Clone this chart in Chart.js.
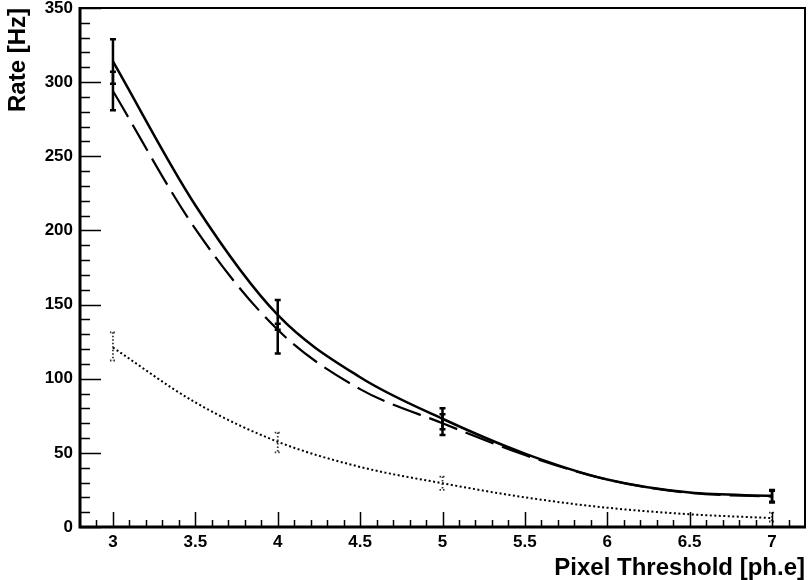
<!DOCTYPE html>
<html>
<head>
<meta charset="utf-8">
<script src="https://cdn.jsdelivr.net/npm/chart.js@4/dist/chart.umd.min.js"></script>
<style>
html,body{margin:0;padding:0;background:#fff;}
canvas{display:block;}
</style>
</head>
<body>
<canvas id="c" width="808" height="580"></canvas>
<script>
// ---- data ----
const curveX      = [3, 3.5, 4, 4.5, 5, 5.5, 6, 6.5, 7];
const solidCurve  = [314, 217, 143, 101, 73, 49.5, 32, 23.2, 21];
const dashedCurve = [294, 201, 133, 93, 70, 48.5, 32, 23, 20.5];
const dottedCurve = [121, 84, 57.5, 40.5, 29.5, 20, 13, 8.6, 6];

const pointX      = [3, 4, 5, 7];
const solidPts    = [314, 143, 73, 21];
const solidErr    = [15, 10, 7, 4];
const dashedPts   = [294, 127, 69, 20.5];
const dashedErr   = [13, 10, 7, 4];
const dottedPts   = [121.8, 57, 29.5, 6.7];
const dottedErr   = [9.5, 6.7, 4.5, 3];

const xTicks = [3, 3.5, 4, 4.5, 5, 5.5, 6, 6.5, 7];
const yTicks = [0, 50, 100, 150, 200, 250, 300, 350];
const xTitle = 'Pixel Threshold [ph.e]';
const yTitle = 'Rate [Hz]';

const FONT = "'Liberation Sans', Arial, Helvetica, sans-serif";

function toXY(xs, ys){ return xs.map((x,i)=>({x:x, y:ys[i]})); }

const errorSets = [
  {pts: solidPts,  err: solidErr,  color:'#000', width:2.5, dash:[]},
  {pts: dashedPts, err: dashedErr, color:'#000', width:2.5, dash:[]},
  {pts: dottedPts, err: dottedErr, color:'#333', width:1.8, dash:[1.5,2]}
];

const framePlugin = {
  id:'frame',
  afterDatasetsDraw(chart){
    const {ctx, chartArea:a, scales:{x, y}} = chart;
    ctx.save();
    // error bars
    errorSets.forEach(s=>{
      ctx.strokeStyle = s.color;
      ctx.lineWidth = s.width;
      ctx.setLineDash(s.dash);
      pointX.forEach((xv,i)=>{
        const px = x.getPixelForValue(xv);
        const top = y.getPixelForValue(s.pts[i] + s.err[i]);
        const bot = y.getPixelForValue(s.pts[i] - s.err[i]);
        ctx.beginPath();
        ctx.moveTo(px, top); ctx.lineTo(px, bot);
        ctx.moveTo(px-3, top); ctx.lineTo(px+3, top);
        ctx.moveTo(px-3, bot); ctx.lineTo(px+3, bot);
        ctx.stroke();
      });
    });
    ctx.setLineDash([]);
    ctx.strokeStyle = '#000';
    // inner ticks: y
    ctx.lineWidth = 1.5;
    ctx.beginPath();
    for (let v = 0; v <= 350.001; v += 10){
      const py = Math.round(y.getPixelForValue(v)) + 0.5;
      const major = Math.abs(v/50 - Math.round(v/50)) < 1e-6;
      ctx.moveTo(a.left, py); ctx.lineTo(a.left + (major ? 21 : 10), py);
    }
    // inner ticks: x
    for (let k = 29; k <= 71; k++){
      const v = k/10;
      const px = Math.round(x.getPixelForValue(v)) + 0.5;
      const major = k % 5 === 0;
      ctx.moveTo(px, a.bottom); ctx.lineTo(px, a.bottom - (major ? 15 : 7));
    }
    ctx.stroke();
    // frame
    ctx.lineWidth = 2;
    ctx.beginPath();
    ctx.moveTo(a.left, a.top); ctx.lineTo(a.right, a.top); ctx.lineTo(a.right, a.bottom);
    ctx.stroke();
    ctx.lineWidth = 3;
    ctx.beginPath();
    ctx.moveTo(a.left, a.top - 1); ctx.lineTo(a.left, a.bottom); ctx.lineTo(a.right + 1, a.bottom);
    ctx.stroke();
    ctx.restore();
  }
};

new Chart(document.getElementById('c'), {
  type:'line',
  data:{
    datasets:[
      {data: toXY(curveX, solidCurve),  borderColor:'#000', borderWidth:2.5, pointRadius:0, cubicInterpolationMode:'monotone', fill:false},
      {data: toXY(curveX, dashedCurve), borderColor:'#000', borderWidth:2.2, borderDash:[30,9], pointRadius:0, cubicInterpolationMode:'monotone', fill:false},
      {data: toXY(curveX, dottedCurve), borderColor:'#000', borderWidth:2, borderDash:[2,2.5], pointRadius:0, cubicInterpolationMode:'monotone', fill:false}
    ]
  },
  options:{
    responsive:false,
    animation:false,
    devicePixelRatio:1,
    layout:{padding:{left:0, right:3, top:8, bottom:0}},
    plugins:{legend:{display:false}, tooltip:{enabled:false}},
    scales:{
      x:{
        type:'linear', min:2.8, max:7.2,
        afterBuildTicks(s){ s.ticks = xTicks.map(v=>({value:v})); },
        afterFit(s){ s.height = 53; s.paddingLeft = 0; s.paddingRight = 0; },
        grid:{display:false, drawTicks:false},
        border:{display:false},
        ticks:{color:'#000', padding:5, font:{family:FONT, size:17, weight:'bold'}, callback:v=>String(v), maxRotation:0, autoSkip:false},
        title:{display:true, text:xTitle, align:'end', color:'#000', padding:{top:0,bottom:0}, font:{family:FONT, size:24, weight:'bold', lineHeight:1}}
      },
      y:{
        type:'linear', min:0, max:350,
        afterBuildTicks(s){ s.ticks = yTicks.map(v=>({value:v})); },
        afterFit(s){ s.width = 80; s.paddingTop = 0; s.paddingBottom = 0; },
        grid:{display:false, drawTicks:false},
        border:{display:false},
        ticks:{color:'#000', padding:7, font:{family:FONT, size:17, weight:'bold'}, callback:v=>String(v), autoSkip:false},
        title:{display:true, text:yTitle, align:'end', color:'#000', padding:{top:6,bottom:0}, font:{family:FONT, size:24, weight:'bold', lineHeight:1}}
      }
    }
  },
  plugins:[framePlugin]
});
</script>
</body>
</html>
